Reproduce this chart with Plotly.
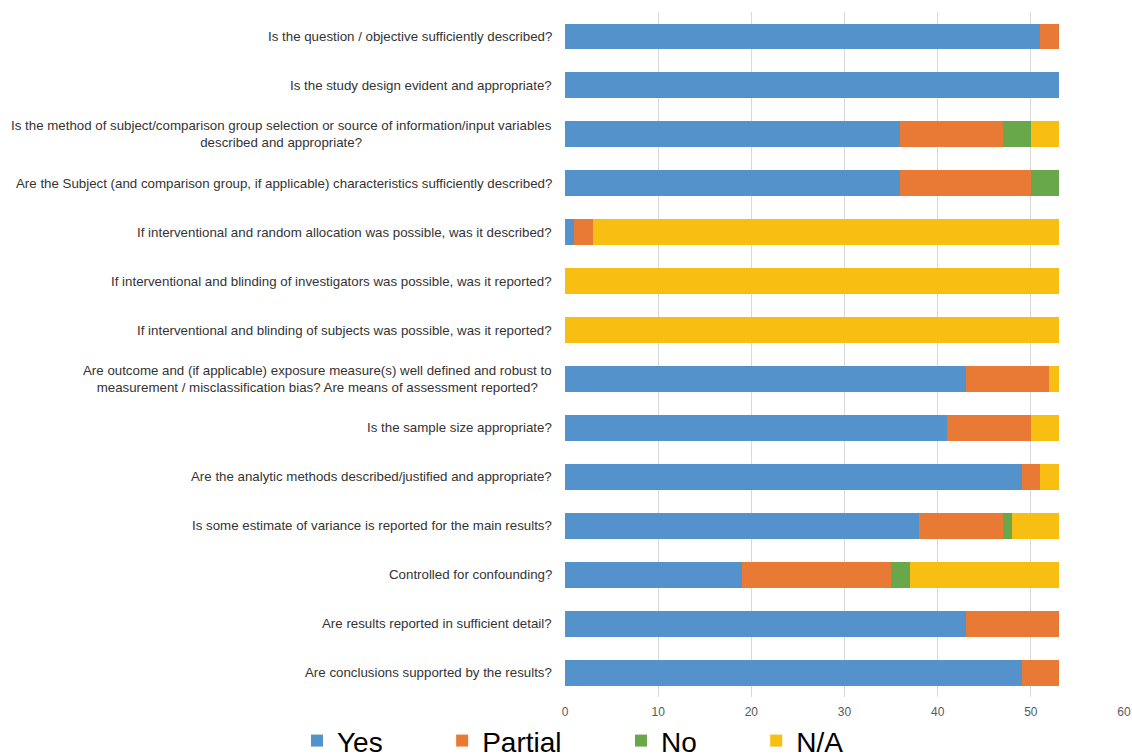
import plotly.graph_objects as go

# Appraisal questions (top to bottom) and the number of studies per rating
questions = [
    "Is the question / objective sufficiently described?",
    "Is the study design evident and appropriate?",
    "Is the method of subject/comparison group selection or source of information/input variables<br>described and appropriate?",
    "Are the Subject (and comparison group, if applicable) characteristics sufficiently described?",
    "If interventional and random allocation was possible, was it described?",
    "If interventional and blinding of investigators was possible, was it reported?",
    "If interventional and blinding of subjects was possible, was it reported?",
    "Are outcome and (if applicable) exposure measure(s) well defined and robust to<br>measurement / misclassification bias? Are means of assessment reported?",
    "Is the sample size appropriate?",
    "Are the analytic methods described/justified and appropriate?",
    "Is some estimate of variance is reported for the main results?",
    "Controlled for confounding?",
    "Are results reported in sufficient detail?",
    "Are conclusions supported by the results?",
]

yes_counts     = [51, 53, 36, 36, 1, 0, 0, 43, 41, 49, 38, 19, 43, 49]
partial_counts = [2, 0, 11, 14, 2, 0, 0, 9, 9, 2, 9, 16, 10, 4]
no_counts      = [0, 0, 3, 3, 0, 0, 0, 0, 0, 0, 1, 2, 0, 0]
na_counts      = [0, 0, 3, 0, 50, 53, 53, 1, 3, 2, 5, 16, 0, 0]

x_ticks = [0, 10, 20, 30, 40, 50, 60]

NBSP = "\u00a0"
# (name, values, colour, trailing padding in the legend)
series = [
    ("Yes", yes_counts, "#5392CB", 7),
    ("Partial", partial_counts, "#E97A35", 7),
    ("No", no_counts, "#69A84A", 7),
    ("N/A", na_counts, "#F8BE12", 0),
]

fig = go.Figure()
for name, vals, color, pad in series:
    fig.add_trace(go.Bar(
        name=name + NBSP * pad, x=vals, y=questions, orientation="h",
        marker=dict(color=color, line=dict(width=0)),
        hovertemplate=name + ": %{x}<extra></extra>",
    ))

# Category labels as centred multi-line annotations to the left of the axis
for q in questions:
    fig.add_annotation(
        x=0, xref="paper", y=q, yref="y",
        text=q, showarrow=False, xanchor="right", xshift=-11,
        align="center",
        font=dict(family="Liberation Sans, Arial", size=13.3, color="#333333"),
    )

fig.update_layout(
    barmode="stack",
    bargap=0.47,
    width=1132, height=756,
    margin=dict(l=565, r=8, t=12, b=59, autoexpand=False),
    paper_bgcolor="white", plot_bgcolor="white",
    font=dict(family="Liberation Sans, Arial", color="#595959"),
    xaxis=dict(
        range=[0, 60], tickvals=x_ticks, showgrid=True,
        gridcolor="#D9D9D9", gridwidth=1, zeroline=False,
        showline=False, ticks="", tickfont=dict(size=12, color="#595959"),
        ticklabelstandoff=6, automargin=False,
    ),
    yaxis=dict(
        autorange="reversed", showticklabels=False, showgrid=False,
        zeroline=False, showline=False, ticks="", automargin=False,
    ),
    legend=dict(
        orientation="h", xref="container", yref="container",
        x=297 / 1132, xanchor="left", y=0.02, yanchor="middle",
        font=dict(family="Liberation Sans, Arial", size=28, color="#000000"),
        traceorder="normal",
    ),
    showlegend=True,
)

fig.write_html("out.html")
